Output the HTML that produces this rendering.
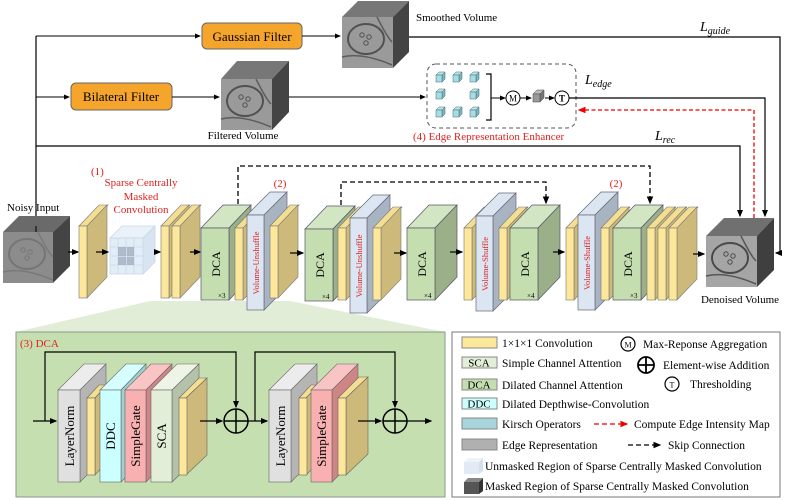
<!DOCTYPE html>
<html><head><meta charset="utf-8"><style>
html,body{margin:0;padding:0;background:#fff}
svg{display:block}
text{font-family:"Liberation Serif",serif}
</style></head><body>
<svg width="809" height="500" viewBox="0 0 809 500" xmlns="http://www.w3.org/2000/svg">
<defs>
<marker id="a" markerWidth="6" markerHeight="6" refX="5" refY="3" orient="auto"><path d="M0,0.5 L6,3 L0,5.5z" fill="#000"/></marker>
<marker id="ar" markerWidth="6" markerHeight="6" refX="5" refY="3" orient="auto"><path d="M0,0.5 L6,3 L0,5.5z" fill="#e00"/></marker>
<g id="slab"><polygon points="0,0 20,-21 29,-21 9,0" fill="#F4DE92" stroke="#777" stroke-width="0.6"/><polygon points="8,0 28,-21 28,51 8,72" fill="#CDBA7A" stroke="#777" stroke-width="0.6"/><rect x="0" y="0" width="8" height="72" fill="#FCE79A" stroke="#777" stroke-width="0.6"/></g>
<g id="dca"><polygon points="0,0 22,-23 50,-23 28,0" fill="#D3E6C3" stroke="#556" stroke-width="0.7"/><polygon points="28,0 50,-23 50,49 28,72" fill="#9BAF89" stroke="#556" stroke-width="0.7"/><rect x="0" y="0" width="28" height="72" fill="#C5DEB0" stroke="#556" stroke-width="0.7"/></g>
<g id="vu"><polygon points="0,0 23,-23 40,-23 17,0" fill="#DCE6F2" stroke="#667" stroke-width="0.7"/><polygon points="17,0 40,-23 40,72 17,95" fill="#A9B4C2" stroke="#667" stroke-width="0.7"/><rect x="0" y="0" width="17" height="95" fill="#DCE6F2" stroke="#667" stroke-width="0.7"/></g>
<g id="cu"><polygon points="0,3 3,0 9,0 6,3" fill="#bfe6ea" stroke="#3a6f78" stroke-width="0.5"/><polygon points="6,3 9,0 9,7 6,10" fill="#7fb6bd" stroke="#3a6f78" stroke-width="0.5"/><rect x="0" y="3" width="6" height="7" fill="#a8dce2" stroke="#3a6f78" stroke-width="0.5"/></g>
<g id="tex"><ellipse cx="24" cy="22" rx="18" ry="15" fill="none" stroke="#333" stroke-width="2"/><circle cx="20" cy="18" r="2.2" fill="none" stroke="#333"/><circle cx="27" cy="20" r="2.2" fill="none" stroke="#333"/><circle cx="24" cy="26" r="2.2" fill="none" stroke="#333"/><path d="M0,40 Q20,35 50,48 M35,0 Q45,20 50,25" fill="none" stroke="#444" stroke-width="1.5"/></g>
</defs>

<!-- top pipeline -->
<line x1="36" y1="36" x2="36" y2="232" stroke="#000" stroke-width="1.2"/>
<line x1="36" y1="36" x2="200" y2="36" stroke="#000" stroke-width="1" marker-end="url(#a)"/>
<rect x="202" y="23" width="100" height="26" rx="5" fill="#F6A52C" stroke="#666"/>
<text x="252" y="41" font-size="13" text-anchor="middle">Gaussian Filter</text>
<line x1="302" y1="36" x2="340" y2="36" stroke="#000" marker-end="url(#a)"/>
<polygon points="342,17 358,1 409,1 393,17" fill="#777"/><polygon points="393,17 409,1 409,52 393,68" fill="#444"/>
<rect x="342" y="17" width="51" height="51" fill="#9a9a9a"/><g transform="translate(342,17)" opacity="0.7"><use href="#tex"/></g>
<text x="416" y="21" font-size="11">Smoothed Volume</text>
<polyline points="409,37 780,37 780,253 776,253" fill="none" stroke="#000" stroke-width="1.2" marker-end="url(#a)"/>
<text x="700" y="31" font-size="14" font-style="italic">L<tspan font-size="10" dy="3">guide</tspan></text>

<line x1="36" y1="97" x2="69" y2="97" stroke="#000" marker-end="url(#a)"/>
<rect x="71" y="83" width="101" height="27" rx="5" fill="#F6A52C" stroke="#666"/>
<text x="121" y="101" font-size="13" text-anchor="middle">Bilateral Filter</text>
<line x1="172" y1="97" x2="219" y2="97" stroke="#000" marker-end="url(#a)"/>
<polygon points="221,79 237,61 289,61 272,79" fill="#777"/><polygon points="272,79 289,61 289,112 272,130" fill="#444"/>
<rect x="221" y="79" width="51" height="51" fill="#9a9a9a"/><g transform="translate(221,79)" opacity="0.7"><use href="#tex"/></g>
<text x="243" y="139" font-size="11" text-anchor="middle">Filtered Volume</text>
<line x1="289" y1="97" x2="425" y2="97" stroke="#000" marker-end="url(#a)"/>

<rect x="427" y="64" width="149" height="64" rx="9" fill="none" stroke="#556" stroke-dasharray="4,3"/>
<use href="#cu" x="436" y="72"/><use href="#cu" x="453" y="72"/><use href="#cu" x="470" y="72"/>
<use href="#cu" x="436" y="89"/><use href="#cu" x="470" y="89"/>
<use href="#cu" x="436" y="107"/><use href="#cu" x="453" y="107"/><use href="#cu" x="470" y="107"/>
<polyline points="486,74 491,74 491,120 486,120" fill="none" stroke="#000" stroke-width="1.2"/>
<line x1="491" y1="98" x2="505" y2="98" stroke="#000" marker-end="url(#a)"/>
<circle cx="513" cy="98" r="7" fill="#fff" stroke="#000"/><text x="513" y="101.5" font-size="9" text-anchor="middle">M</text>
<line x1="520" y1="98" x2="531" y2="98" stroke="#000" marker-end="url(#a)"/>
<polygon points="533,94 537,90 544,90 540,94" fill="#bbb" stroke="#444" stroke-width="0.5"/><polygon points="540,94 544,90 544,98 540,102" fill="#777" stroke="#444" stroke-width="0.5"/><rect x="533" y="94" width="7" height="8" fill="#999" stroke="#444" stroke-width="0.5"/>
<line x1="545" y1="98" x2="554" y2="98" stroke="#000" marker-end="url(#a)"/>
<circle cx="562" cy="98" r="7" fill="#fff" stroke="#000"/><text x="562" y="101.5" font-size="9" text-anchor="middle" font-weight="bold">T</text>
<text x="413" y="140" font-size="11" fill="#e02020">(4) Edge Representation Enhancer</text>
<text x="585" y="84" font-size="14" font-style="italic">L<tspan font-size="10" dy="3">edge</tspan></text>
<polyline points="569,98 765,98 765,216" fill="none" stroke="#000" stroke-width="1.2" marker-end="url(#a)"/>
<polyline points="754,218 754,110 579,110" fill="none" stroke="#e00" stroke-width="1.3" stroke-dasharray="4,2.5" marker-end="url(#ar)"/>
<text x="655" y="140" font-size="14" font-style="italic">L<tspan font-size="10" dy="3">rec</tspan></text>
<polyline points="36,146 740,146 740,216" fill="none" stroke="#000" stroke-width="1.2" marker-end="url(#a)"/>

<!-- skip connections -->
<polyline points="238,204 238,166 650,166 650,203" fill="none" stroke="#000" stroke-width="1.3" stroke-dasharray="5,3" marker-end="url(#a)"/>
<polyline points="341,205 341,182 546,182 546,203" fill="none" stroke="#000" stroke-width="1.3" stroke-dasharray="5,3" marker-end="url(#a)"/>

<!-- labels -->
<text x="91" y="175" font-size="11" fill="#e02020">(1)</text>
<text x="141" y="186" font-size="11" fill="#e02020" text-anchor="middle">Sparse Centrally</text>
<text x="141" y="200" font-size="11" fill="#e02020" text-anchor="middle">Masked</text>
<text x="141" y="213" font-size="11" fill="#e02020" text-anchor="middle">Convolution</text>
<text x="280" y="187" font-size="11" fill="#e02020" text-anchor="middle">(2)</text>
<text x="616" y="187" font-size="11" fill="#e02020" text-anchor="middle">(2)</text>

<!-- green trapezoid -->
<polygon points="150,301 290,301 445,332 16,332" fill="#E1EDD6"/>

<!-- noisy input -->
<text x="7" y="211" font-size="11">Noisy Input</text>
<polygon points="3,232 19,216 70,216 53,232" fill="#6a6a6a"/><polygon points="53,232 70,216 70,266 53,283" fill="#444"/>
<rect x="3" y="232" width="50" height="51" fill="#8c8c8c"/><g transform="translate(3,232)" opacity="0.25"><use href="#tex"/></g>
<line x1="36" y1="232" x2="36" y2="226" stroke="#000"/>
<line x1="68" y1="252" x2="78" y2="252" stroke="#000" stroke-width="1.2" marker-end="url(#a)"/>
<use href="#slab" x="79" y="226"/>
<line x1="96" y1="252" x2="108" y2="252" stroke="#000" stroke-width="1.2" marker-end="url(#a)"/>
<!-- grid cube -->
<g stroke="#c8d8ea" stroke-width="0.8">
<polygon points="110,238 122,226 155,226 143,238" fill="#eaf1f9"/>
<polygon points="143,238 155,226 155,262 143,274" fill="#d8e4f1"/>
<rect x="110" y="238" width="33" height="36" fill="#e3edf8"/>
<path d="M118,238V274M126,238V274M134,238V274M110,247H143M110,256H143M110,265H143" fill="none"/>
</g>
<rect x="118" y="247" width="16" height="18" fill="#8a99ac" opacity="0.6"/>
<rect x="126" y="247" width="0.8" height="18" fill="#dde"/><rect x="118" y="256" width="16" height="0.8" fill="#dde"/>
<line x1="154" y1="252" x2="160" y2="252" stroke="#000" stroke-width="1.2" marker-end="url(#a)"/>
<use href="#slab" x="161" y="226"/><use href="#slab" x="172" y="226"/>
<line x1="190" y1="252" x2="200" y2="252" stroke="#000" stroke-width="1.2" marker-end="url(#a)"/>
<use href="#dca" x="201" y="228"/>
<use href="#slab" x="235" y="228"/>
<use href="#vu" x="247" y="215"/>
<use href="#slab" x="270" y="226"/>
<line x1="290" y1="253" x2="303" y2="253" stroke="#000" stroke-width="1.2" marker-end="url(#a)"/>
<use href="#dca" x="305" y="229"/>
<use href="#slab" x="338" y="228"/>
<use href="#vu" x="350" y="218"/>
<use href="#slab" x="373" y="228"/>
<line x1="394" y1="253" x2="406" y2="253" stroke="#000" stroke-width="1.2" marker-end="url(#a)"/>
<use href="#dca" x="407" y="228"/>
<line x1="450" y1="252" x2="462" y2="252" stroke="#000" stroke-width="1.2" marker-end="url(#a)"/>
<use href="#slab" x="464" y="228"/>
<use href="#vu" x="476" y="216"/>
<use href="#slab" x="499" y="228"/>
<use href="#dca" x="510" y="228"/>
<line x1="553" y1="252" x2="564" y2="252" stroke="#000" stroke-width="1.2" marker-end="url(#a)"/>
<use href="#slab" x="566" y="228"/>
<use href="#vu" x="578" y="215"/>
<use href="#slab" x="601" y="228"/>
<use href="#dca" x="613" y="228"/>
<use href="#slab" x="647" y="228"/><use href="#slab" x="658" y="228"/><use href="#slab" x="669" y="228"/>
<line x1="693" y1="254" x2="704" y2="254" stroke="#000" stroke-width="1.2" marker-end="url(#a)"/>
<!-- DCA labels -->
<g font-size="12">
<text transform="translate(220,264) rotate(-90)" text-anchor="middle">DCA</text>
<text transform="translate(324,265) rotate(-90)" text-anchor="middle">DCA</text>
<text transform="translate(426,264) rotate(-90)" text-anchor="middle">DCA</text>
<text transform="translate(529,264) rotate(-90)" text-anchor="middle">DCA</text>
<text transform="translate(632,264) rotate(-90)" text-anchor="middle">DCA</text>
</g>
<g font-size="7" font-family="Liberation Sans,sans-serif">
<text x="218" y="298">×3</text><text x="322" y="299">×4</text><text x="424" y="298">×4</text><text x="527" y="298">×4</text><text x="630" y="298">×3</text>
</g>
<g font-size="8.5" fill="#e02020">
<text transform="translate(259,263) rotate(-90)" text-anchor="middle">Volume-Unshuffle</text>
<text transform="translate(362,266) rotate(-90)" text-anchor="middle">Volume-Unshuffle</text>
<text transform="translate(488,264) rotate(-90)" text-anchor="middle">Volume-Shuffle</text>
<text transform="translate(590,263) rotate(-90)" text-anchor="middle">Volume-Shuffle</text>
</g>
<!-- denoised -->
<polygon points="706,236 724,218 774,218 757,236" fill="#707070"/><polygon points="757,236 774,218 774,270 757,287" fill="#3f3f3f"/>
<rect x="706" y="236" width="51" height="51" fill="#a5a5a5"/><g transform="translate(706,236)" opacity="0.8"><use href="#tex"/></g>
<text x="740" y="303" font-size="11" text-anchor="middle">Denoised Volume</text>

<!-- DCA detail box -->
<rect x="16" y="332" width="429" height="165" fill="#C6DFB0" stroke="#8a9a8a"/>
<text x="20" y="347" font-size="11" fill="#e02020">(3) DCA</text>
<polyline points="33,421 56,421" fill="none" stroke="#000" stroke-width="1.2" marker-end="url(#a)"/>
<polyline points="45,421 45,352 236,352 236,407" fill="none" stroke="#000" stroke-width="1.2" marker-end="url(#a)"/>
<g stroke="#666" stroke-width="0.6">
<!-- LayerNorm -->
<polygon points="58,390 84,364 106,364 80,390" fill="#ececec"/><polygon points="80,390 106,364 106,456 80,482" fill="#b5b5b5"/><rect x="58" y="390" width="22" height="92" fill="#e0e0e0"/>
<polygon points="87,398 99,385 107,385 95,398" fill="#F4DE92"/><polygon points="95,398 107,385 107,462 95,475" fill="#CDBA7A"/><rect x="87" y="398" width="8" height="77" fill="#FCE79A"/>
<polygon points="100,390 126,364 146,364 121,390" fill="#d6ffff"/><polygon points="121,390 146,364 146,456 121,482" fill="#9ecfd0"/><rect x="100" y="390" width="21" height="92" fill="#ccffff"/>
<polygon points="125,390 151,364 172,364 146,390" fill="#f9c4c4"/><polygon points="146,390 172,364 172,456 146,482" fill="#cf8585"/><rect x="125" y="390" width="21" height="92" fill="#f8b0b0"/>
<polygon points="151,390 177,364 199,364 172,390" fill="#eef5e6"/><polygon points="172,390 199,364 199,456 172,482" fill="#b5c2aa"/><rect x="151" y="390" width="21" height="92" fill="#e3eed8"/>
<polygon points="179,398 199,378 207,378 186,398" fill="#F4DE92"/><polygon points="186,398 207,378 207,455 186,475" fill="#CDBA7A"/><rect x="179" y="398" width="8" height="77" fill="#FCE79A"/>
<!-- second -->
<polygon points="269,390 295,364 317,364 291,390" fill="#ececec"/><polygon points="291,390 317,364 317,456 291,482" fill="#b5b5b5"/><rect x="269" y="390" width="22" height="92" fill="#e0e0e0"/>
<polygon points="299,398 311,385 319,385 306,398" fill="#F4DE92"/><polygon points="306,398 319,385 319,462 306,475" fill="#CDBA7A"/><rect x="299" y="398" width="8" height="77" fill="#FCE79A"/>
<polygon points="311,390 337,364 358,364 332,390" fill="#f9c4c4"/><polygon points="332,390 358,364 358,456 332,482" fill="#cf8585"/><rect x="311" y="390" width="21" height="92" fill="#f8b0b0"/>
<polygon points="338,398 359,377 368,377 346,398" fill="#F4DE92"/><polygon points="346,398 368,377 368,454 346,475" fill="#CDBA7A"/><rect x="338" y="398" width="8" height="77" fill="#FCE79A"/>
</g>
<g font-size="13">
<text transform="translate(74,436) rotate(-90)" text-anchor="middle">LayerNorm</text>
<text transform="translate(115,436) rotate(-90)" text-anchor="middle">DDC</text>
<text transform="translate(140,436) rotate(-90)" text-anchor="middle">SimpleGate</text>
<text transform="translate(166,436) rotate(-90)" text-anchor="middle">SCA</text>
<text transform="translate(285,436) rotate(-90)" text-anchor="middle">LayerNorm</text>
<text transform="translate(326,436) rotate(-90)" text-anchor="middle">SimpleGate</text>
</g>
<line x1="200" y1="421" x2="222" y2="421" stroke="#000" stroke-width="1.2" marker-end="url(#a)"/>
<circle cx="236" cy="421" r="12" fill="none" stroke="#000" stroke-width="1.5"/><path d="M224,421H248M236,409V433" stroke="#000" stroke-width="1.5"/>
<line x1="248" y1="421" x2="267" y2="421" stroke="#000" stroke-width="1.2" marker-end="url(#a)"/>
<polyline points="255,421 255,352 395,352 395,407" fill="none" stroke="#000" stroke-width="1.2" marker-end="url(#a)"/>
<line x1="358" y1="421" x2="381" y2="421" stroke="#000" stroke-width="1.2" marker-end="url(#a)"/>
<circle cx="395" cy="421" r="12" fill="none" stroke="#000" stroke-width="1.5"/><path d="M383,421H407M395,409V433" stroke="#000" stroke-width="1.5"/>
<line x1="407" y1="421" x2="431" y2="421" stroke="#000" stroke-width="1.2" marker-end="url(#a)"/>

<!-- legend -->
<rect x="452" y="332" width="328" height="165" fill="#fff" stroke="#777"/>
<g font-size="11.5">
<rect x="462" y="337" width="35" height="11" fill="#FCE79A" stroke="#888"/><text x="502" y="347">1×1×1 Convolution</text>
<rect x="462" y="357" width="35" height="11" fill="#e3eed8" stroke="#888"/><text x="479" y="366.5" text-anchor="middle" font-size="11">SCA</text><text x="502" y="367">Simple Channel Attention</text>
<rect x="462" y="379" width="35" height="11" fill="#C5DEB0" stroke="#888"/><text x="479" y="388.5" text-anchor="middle" font-size="11">DCA</text><text x="502" y="389">Dilated Channel Attention</text>
<rect x="462" y="398" width="35" height="11" fill="#ccffff" stroke="#888"/><text x="479" y="407.5" text-anchor="middle" font-size="11">DDC</text><text x="502" y="408">Dilated Depthwise-Convolution</text>
<rect x="462" y="418" width="35" height="11" fill="#a8d4dc" stroke="#888"/><text x="502" y="428">Kirsch Operators</text>
<rect x="462" y="439" width="35" height="11" fill="#b0b0b0" stroke="#888"/><text x="502" y="449">Edge Representation</text>
<circle cx="628" cy="344" r="7" fill="none" stroke="#000" stroke-width="1.2"/><text x="628" y="347.5" font-size="8" text-anchor="middle">M</text><text x="643" y="348">Max-Reponse Aggregation</text>
<circle cx="646" cy="365" r="8" fill="none" stroke="#000" stroke-width="1.8"/><path d="M638,365H654M646,357V373" stroke="#000" stroke-width="1.8"/><text x="663" y="369">Element-wise Addition</text>
<circle cx="672" cy="384" r="7" fill="none" stroke="#000" stroke-width="1.2"/><text x="672" y="387.5" font-size="8" text-anchor="middle">T</text><text x="690" y="388">Thresholding</text>
<line x1="594" y1="424" x2="627" y2="424" stroke="#e00" stroke-width="1.3" stroke-dasharray="5,3" marker-end="url(#ar)"/><text x="634" y="428">Compute Edge Intensity Map</text>
<line x1="628" y1="445" x2="660" y2="445" stroke="#000" stroke-width="1.3" stroke-dasharray="5,3" marker-end="url(#a)"/><text x="668" y="449">Skip Connection</text>
<polygon points="464,462 468,458 483,458 479,462" fill="#eef3f9"/><polygon points="479,462 483,458 483,471 479,474" fill="#d5e0ec"/><rect x="464" y="462" width="15" height="12" fill="#e2ebf5"/>
<text x="485" y="470">Unmasked Region of Sparse Centrally Masked Convolution</text>
<polygon points="464,482 468,478 483,478 479,482" fill="#888"/><polygon points="479,482 483,478 483,491 479,494" fill="#333"/><rect x="464" y="482" width="15" height="12" fill="#555"/>
<text x="485" y="490">Masked Region of Sparse Centrally Masked Convolution</text>
</g>
</svg>
</body></html>
